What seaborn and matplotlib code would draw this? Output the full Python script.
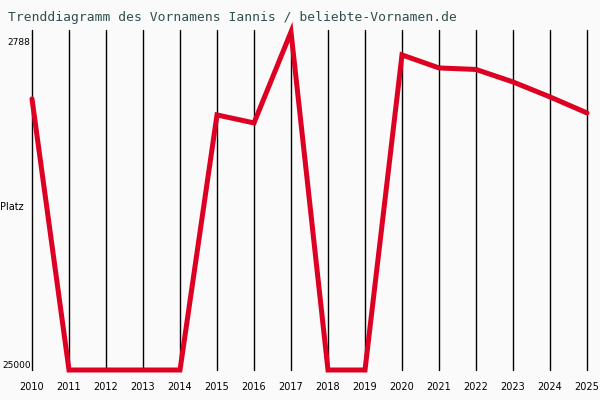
import matplotlib
matplotlib.use('Agg')
from matplotlib import pyplot as plt
from matplotlib import transforms
import seaborn as sns
import pandas as pd

years = list(range(2010, 2026))
ranks = [7190, 25000, 25000, 25000, 25000, 8241, 8767, 2788,
         25000, 25000, 4299, 5153, 5252, 6073, 7058, 8110]
ytick_values = [2788, 25000]

df = pd.DataFrame({'Jahr': years, 'Platz': ranks})

sns.set_style('white')
plt.rcParams['font.family'] = ['DejaVu Sans']

fig = plt.figure(figsize=(6, 4), dpi=100, facecolor='#fafafa')
ax = fig.add_axes([32 / 600, 30 / 400, 555 / 600, 340 / 400])
ax.set_facecolor('#fafafa')

sns.lineplot(data=df, x='Jahr', y='Platz', ax=ax, color='#dd0022',
             linewidth=3.6, clip_on=False, solid_joinstyle='miter')

ax.set_xlim(2010, 2025)
ax.set_ylim(25000, 2660)
ax.set_xticks(years)
ax.set_xticklabels([str(y) for y in years], fontsize=7)
ax.set_yticks(ytick_values)
ax.set_yticklabels([str(v) for v in ytick_values], fontsize=6.5)
ax.tick_params(axis='both', colors='black', length=0)
ax.tick_params(axis='x', pad=9)
ax.tick_params(axis='y', pad=1)

# top label sits a bit below the top edge, bottom label just above the base
top_lbl, bot_lbl = ax.get_yticklabels()
top_lbl.set_va('center')
top_lbl.set_transform(top_lbl.get_transform() +
                      transforms.ScaledTranslation(0, -0.11, fig.dpi_scale_trans))
bot_lbl.set_va('bottom')

ax.grid(axis='x', color='black', linewidth=1)
ax.grid(axis='y', visible=False)
for gl in ax.get_xgridlines():
    gl.set_clip_on(False)
for s in ax.spines.values():
    s.set_visible(False)
ax.set_xlabel('')
ax.set_ylabel('Platz', rotation=0, fontsize=7, ha='left', va='center', color='black')
ax.yaxis.set_label_coords(-0.057, 0.479)

fig.text(8 / 600, 1 - 18 / 400, 'Trenddiagramm des Vornamens Iannis / beliebte-Vornamen.de',
         fontsize=9.4, family='DejaVu Sans Mono', color='#2f4f4f', va='center')

fig.savefig('out.png', dpi=100, facecolor=fig.get_facecolor())
